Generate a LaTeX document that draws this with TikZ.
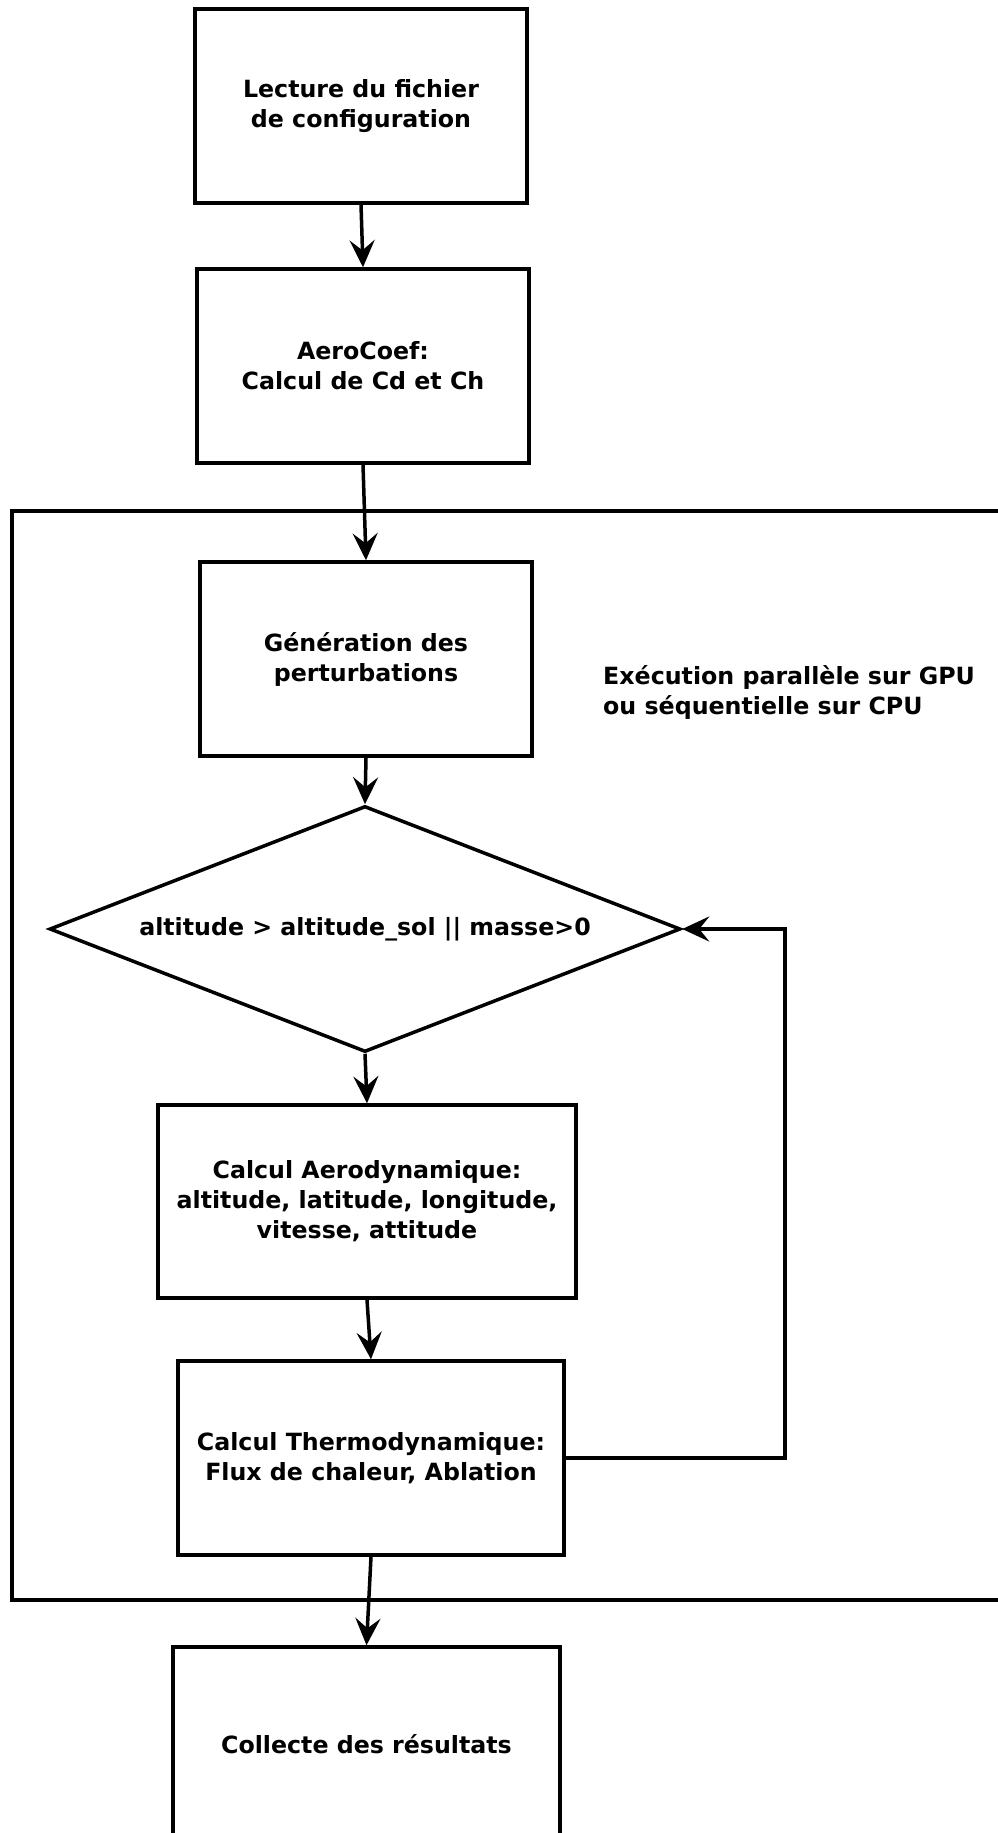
\documentclass[tikz,border=0pt]{standalone}
\usepackage{fontspec}
\setmainfont{DejaVu Sans}
\usetikzlibrary{arrows.meta,shapes.geometric}
\tikzset{
  box/.style={draw, line width=3.5pt, rectangle, align=center, inner sep=0pt,
    font=\fontsize{23.7}{30}\selectfont\bfseries},
  arr/.style={-{Stealth[length=27pt,width=25pt,inset=10pt]}, line width=3.5pt},
  plain/.style={line width=3.5pt},
  lbl/.style={align=left, inner sep=0pt, font=\fontsize{23.7}{30}\selectfont\bfseries}
}
\begin{document}
\begin{tikzpicture}[x=1pt,y=-1pt]
\useasboundingbox (0,0) rectangle (998,1833);
\clip (0,0) rectangle (998,1833);
% container
\draw[plain] (12,511) rectangle (1100,1600);
\node[lbl, anchor=west] (lab) at (603,692) {Exécution parallèle sur GPU\\ou séquentielle sur CPU};
% boxes
\node[box, minimum width=332pt, minimum height=194pt] (b1) at (361,106) {Lecture du fichier\\de configuration};
\node[box, minimum width=332pt, minimum height=194pt] (b2) at (363,366) {AeroCoef:\\Calcul de Cd et Ch};
\node[box, minimum width=332pt, minimum height=194pt] (b3) at (366,659) {Génération des\\perturbations};
\node[draw, line width=3.5pt, diamond, aspect=2.565, inner sep=0pt, minimum width=631pt, minimum height=246pt,
  font=\fontsize{23.7}{30}\selectfont\bfseries] (dia) at (365,929) {altitude > altitude\_sol || masse>0};
\node[box, minimum width=418pt, minimum height=193pt] (b4) at (367,1201.5) {Calcul Aerodynamique:\\altitude, latitude, longitude,\\vitesse, attitude};
\node[box, minimum width=386pt, minimum height=194pt] (b5) at (371,1458) {Calcul Thermodynamique:\\Flux de chaleur, Ablation};
\node[box, minimum width=387pt, minimum height=194pt] (b6) at (366.5,1744) {Collecte des résultats};
\coordinate (lp) at (785,929);
% connectors
\draw[arr] (b1.south) -- (b2.north);
\draw[arr] (b2.south) -- (b3.north);
\draw[arr] (b3.south) -- (dia.north);
\draw[arr] (dia.south) -- (b4.north);
\draw[arr] (b4.south) -- (b5.north);
\draw[arr] (b5.south) -- (b6.north);
\draw[arr] (b5.east) -| (lp) -- (dia.east);
\end{tikzpicture}
\end{document}
